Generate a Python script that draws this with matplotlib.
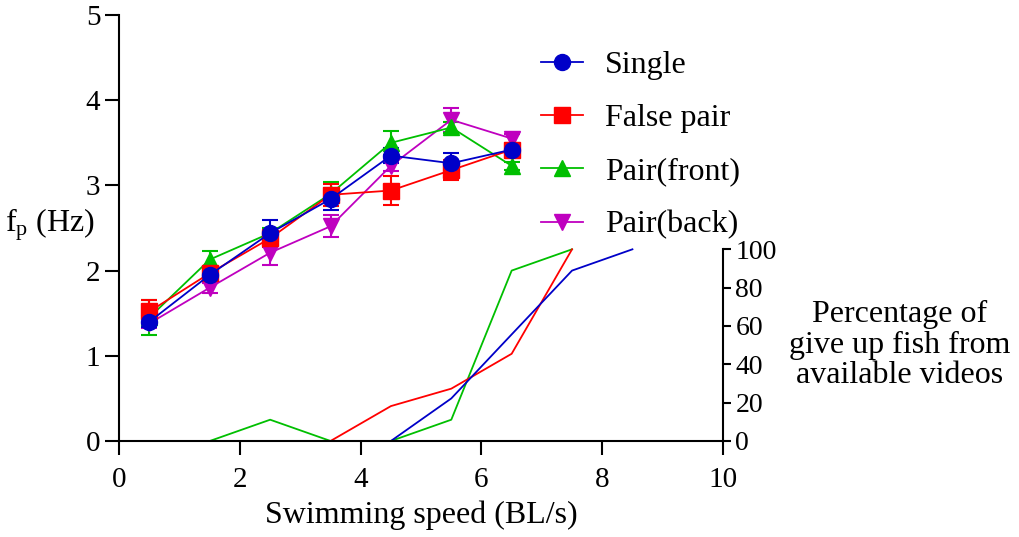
import matplotlib
matplotlib.use("Agg")
import matplotlib.pyplot as plt

# ── Data ───────────────────────────────────────────────────────────────────
speed = [0.5, 1.5, 2.5, 3.5, 4.5, 5.5, 6.5]

single_fp = [1.40, 1.95, 2.44, 2.84, 3.35, 3.26, 3.42]
single_err = [0.06, 0.06, 0.15, 0.13, 0.09, 0.12, 0.05]

false_fp = [1.52, 1.97, 2.38, 2.89, 2.94, 3.18, 3.42]
false_err = [0.14, 0.06, 0.10, 0.13, 0.17, 0.12, 0.05]

front_fp = [1.45, 2.13, 2.44, 2.90, 3.50, 3.68, 3.23]
front_err = [0.21, 0.10, 0.06, 0.14, 0.14, 0.06, 0.05]

back_fp = [1.38, 1.80, 2.21, 2.52, 3.23, 3.77, 3.55]
back_err = [0.05, 0.06, 0.15, 0.13, 0.06, 0.14, 0.05]

pct_speed_single = [0.5, 1.5, 2.5, 3.5, 4.5, 5.5, 6.5, 7.5, 8.5]
pct_single = [0, 0, 0, 0, 0, 22.2, 55.6, 88.9, 100]

pct_speed_false = [0.5, 1.5, 2.5, 3.5, 4.5, 5.5, 6.5, 7.5]
pct_false = [0, 0, 0, 0, 18.2, 27.3, 45.5, 100]

pct_speed_front = [0.5, 1.5, 2.5, 3.5, 4.5, 5.5, 6.5, 7.5]
pct_front = [0, 0, 11.1, 0, 0, 11.1, 88.9, 100]

COLORS = {"single": "#0000C8", "false": "#FF0000", "front": "#00BF00", "back": "#BF00BF"}

plt.rcParams.update({
    "font.family": "Liberation Serif",
    "mathtext.fontset": "custom",
    "mathtext.rm": "Liberation Serif",
    "mathtext.it": "Liberation Serif",
    "font.size": 21,
    "axes.linewidth": 1.5,
    "xtick.major.width": 1.5,
    "ytick.major.width": 1.5,
    "xtick.major.size": 10,
    "ytick.major.size": 10,
})

fig = plt.figure(figsize=(10.19, 5.37), dpi=100)
ax = fig.add_axes([0.117, 0.1788, 0.5925, 0.7932])

# ── Percentage lines (right axis, drawn first so they sit underneath) ─────
ax2 = ax.twinx()
ax2.plot(pct_speed_front, pct_front, color=COLORS["front"], lw=1.3)
ax2.plot(pct_speed_false, pct_false, color=COLORS["false"], lw=1.3)
ax2.plot(pct_speed_single, pct_single, color=COLORS["single"], lw=1.3)
ax2.set_ylim(0, 100 * 5 / 2.25)
ax2.set_yticks([0, 20, 40, 60, 80, 100])
ax2.spines["right"].set_bounds(0, 100)
ax2.spines["top"].set_visible(False)
ax2.spines["left"].set_visible(False)
ax2.spines["bottom"].set_visible(False)
ax2.tick_params(axis="y", length=6, pad=3, labelsize=20)
ax2.text(1.293, 0.225, "Percentage of\ngive up fish from\navailable videos",
         transform=ax.transAxes, ha="center", va="center", fontsize=23, linespacing=1.08)

ax.set_zorder(ax2.get_zorder() + 1)
ax.patch.set_visible(False)

# ── fp series with error bars ──────────────────────────────────────────────
series = [
    (back_fp, back_err, "v", COLORS["back"], "Pair(back)"),
    (front_fp, front_err, "^", COLORS["front"], "Pair(front)"),
    (false_fp, false_err, "s", COLORS["false"], "False pair"),
    (single_fp, single_err, "o", COLORS["single"], "Single"),
]
handles = {}
for vals, err, mk, col, label in series:
    h = ax.errorbar(speed, vals, yerr=err, color=col, marker=mk, markersize=11.5,
                    lw=1.3, elinewidth=1.5, capsize=6, capthick=1.5, label=label)
    handles[label] = h[0]

ax.set_xlim(0, 10)
ax.set_ylim(0, 5)
ax.set_xticks([0, 2, 4, 6, 8, 10])
ax.set_yticks([0, 1, 2, 3, 4, 5])
ax.tick_params(axis="x", pad=9)
ax.spines["top"].set_visible(False)
ax.spines["right"].set_visible(False)
ax.set_xlabel("Swimming speed (BL/s)", fontsize=23, labelpad=5)
ax.text(-0.114, 0.507, r"f$_\mathrm{p}$ (Hz)", transform=ax.transAxes,
        ha="center", va="center", fontsize=23)

order = ["Single", "False pair", "Pair(front)", "Pair(back)"]
ax.legend([handles[k] for k in order], order, frameon=False, fontsize=23,
          loc="upper left", bbox_to_anchor=(0.699, 0.917), borderpad=0,
          borderaxespad=0, handlelength=1.3, labelspacing=0.75, handletextpad=0.7)

fig.savefig("out.png", dpi=100)
